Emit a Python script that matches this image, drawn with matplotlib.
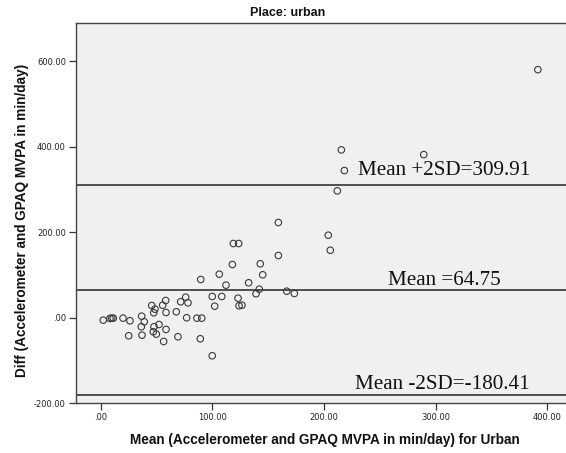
import matplotlib
matplotlib.use("Agg")
import matplotlib.pyplot as plt
from matplotlib.ticker import FuncFormatter

# Bland-Altman data: mean of the two methods vs difference (min/day)
mean_mvpa = [2.3, 8.3, 9.9, 11.3, 20.0, 26.2, 25.1, 36.7, 39.0, 36.4, 37.0,
             45.7, 48.6, 47.5, 47.7, 52.2, 47.1, 49.8, 58.2, 55.5, 58.5, 58.5,
             56.4, 67.7, 69.2, 71.6, 76.1, 78.2, 77.0, 86.2, 90.5, 89.2, 99.9,
             89.6, 99.9, 102.1, 108.4, 106.2, 112.2, 117.9, 118.8, 123.6,
             123.0, 123.9, 126.5, 132.5, 139.1, 142.0, 142.9, 145.1, 159.1,
             166.6, 173.4, 205.6, 159.1, 203.8, 215.5, 211.9, 218.2, 289.3,
             391.5]
diff_mvpa = [-5.6, -1.6, -0.9, -0.9, -0.9, -7.0, -42.1, 3.7, -9.3, -21.0, -40.7,
             28.7, 20.1, 11.7, -21.0, -15.7, -32.7, -38.3, 40.4, 29.4, 12.4,
             -27.3, -55.4, 14.0, -44.4, 37.4, 48.1, 35.0, 0.0, -0.9, -0.9,
             -49.1, -88.8, 89.5, 49.8, 27.1, 49.8, 101.9, 76.2, 124.5, 173.6,
             173.6, 45.8, 28.0, 29.4, 81.8, 56.1, 66.8, 126.2, 100.5, 145.6,
             62.1, 56.8, 157.9, 222.7, 193.0, 392.5, 296.7, 344.2, 381.5, 580.1]

mean_diff = 64.75
upper_loa = 309.91
lower_loa = -180.41

x_ticks = [0, 100, 200, 300, 400]
y_ticks = [-200, 0, 200, 400, 600]


def spss_fmt(v, pos):
  s = f"{v:.2f}"
  if s.startswith("0."):
    s = s[1:]
  elif s.startswith("-0."):
    s = "-" + s[2:]
  return s


def plot_bland_altman():
  W, H = 566, 453
  fig = plt.figure(figsize=(W / 100, H / 100), dpi=100)
  ax = fig.add_axes([0.1337, 0.1097, 0.8827, 0.8403])
  ax.set_facecolor("#f0f0f0")

  ax.scatter(mean_mvpa, diff_mvpa, s=22, facecolors="none",
             edgecolors="#3a3a3a", linewidths=0.8, zorder=3)

  for val in (upper_loa, mean_diff, lower_loa):
    ax.axhline(val, color="#222222", lw=1.1, zorder=2)

  serif = dict(family="Liberation Serif", fontsize=15.2, color="#111111",
               va="baseline", ha="left")
  ax.text(230.7, 334.8, f"Mean +2SD={upper_loa:.2f}", **serif)
  ax.text(257.3, 75.5, f"Mean ={mean_diff:.2f}", **serif)
  ax.text(227.7, -165.9, f"Mean -2SD={lower_loa:.2f}", **serif)

  ax.set_xlim(-22.4, 425)
  ax.set_ylim(-200, 690)
  ax.set_xticks(x_ticks)
  ax.set_yticks(y_ticks)
  ax.xaxis.set_major_formatter(FuncFormatter(spss_fmt))
  ax.yaxis.set_major_formatter(FuncFormatter(spss_fmt))
  ax.tick_params(direction="out", length=5, width=0.9, color="#333333",
                 labelsize=6.0, labelcolor="#222222", pad=2)

  for sp in ax.spines.values():
    sp.set_color("#444444")
    sp.set_linewidth(1.0)

  lbl = dict(family="Liberation Sans", fontsize=9.8, fontweight="bold",
             color="#111111", ha="center", va="center")
  fig.text(324.7 / W, 1 - 440 / H,
           "Mean (Accelerometer and GPAQ MVPA in min/day) for Urban", **lbl)
  fig.text(22 / W, 1 - 220 / H,
           "Diff (Accelerometer and GPAQ MVPA in min/day)", rotation=90, **lbl)
  fig.text(287.5 / W, 1 - 13.3 / H, "Place: urban", ha="center",
           va="center", family="Liberation Sans", fontsize=9.0,
           fontweight="bold", color="#111111")

  fig.savefig("out.png", dpi=100)


if __name__ == "__main__":
  plot_bland_altman()
